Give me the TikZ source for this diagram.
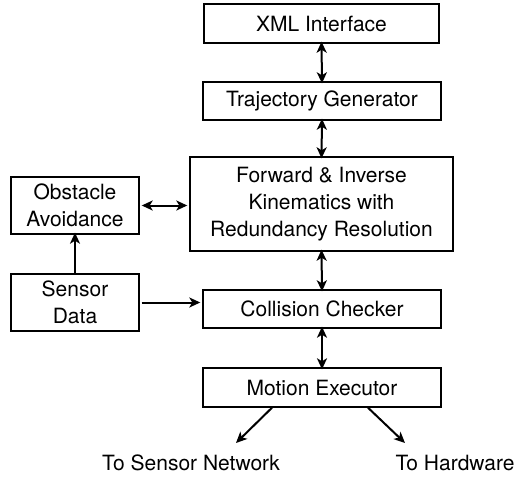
\documentclass[tikz,border=0pt]{standalone}
\usepackage{fontspec}
\setmainfont{TeX Gyre Heros}
\usetikzlibrary{arrows.meta}
\begin{document}
\begin{tikzpicture}[x=1pt,y=-1pt,
  blk/.style={draw,line width=1.4pt,inner sep=0pt,font=\fontsize{21}{27}\selectfont,align=center},
  tip/.tip={Stealth[length=11pt,width=10pt,inset=3pt]},
  link/.style={line width=2pt,-tip},
  both/.style={line width=2pt,tip-tip},
  lbl/.style={font=\fontsize{21}{27}\selectfont}]
\useasboundingbox (0,0) rectangle (531,477);
% main chain of modules
\node[blk,minimum width=235pt,minimum height=39pt] (xml) at (321.5,23.5) {XML Interface};
\node[blk,minimum width=238pt,minimum height=38pt] (traj) at (322,101) {Trajectory Generator};
\node[blk,minimum width=263pt,minimum height=94pt] (kin) at (321.5,204) {Forward \& Inverse\\Kinematics with\\Redundancy Resolution};
\node[blk,minimum width=238pt,minimum height=38pt] (coll) at (322,309) {Collision Checker};
\node[blk,minimum width=238pt,minimum height=39pt] (exec) at (322,387.5) {Motion Executor};
% side modules
\node[blk,minimum width=128pt,minimum height=57pt] (obst) at (75,205.5) {Obstacle\\Avoidance};
\node[blk,minimum width=128pt,minimum height=57pt] (sens) at (75,302.5) {Sensor\\Data};
% outputs
\node[lbl] (net) at (191,463) {To Sensor Network};
\node[lbl] (hw) at (455,463) {To Hardware};
\coordinate (netend) at (236,443);
\coordinate (hwend) at (405,443);
% connectors
\draw[both] ([yshift=2pt]xml.south) -- ([yshift=-2pt]traj.north);
\draw[both] ([yshift=2pt]traj.south) -- ([yshift=-2pt]kin.north);
\draw[both] ([yshift=2pt]kin.south) -- ([yshift=-2pt]coll.north);
\draw[both] ([yshift=2pt]coll.south) -- ([yshift=-2pt]exec.north);
\draw[both] ([xshift=2pt]obst.east) -- ([xshift=-2pt]kin.west |- obst.east);
\draw[link] ([xshift=2pt]sens.east) -- ([xshift=-2pt]coll.west |- sens.east);
\draw[link] (sens.north) -- ([yshift=2pt]obst.south);
\draw[link] ([xshift=-50pt]exec.south) -- (netend);
\draw[link] ([xshift=46pt]exec.south) -- (hwend);
\end{tikzpicture}
\end{document}
